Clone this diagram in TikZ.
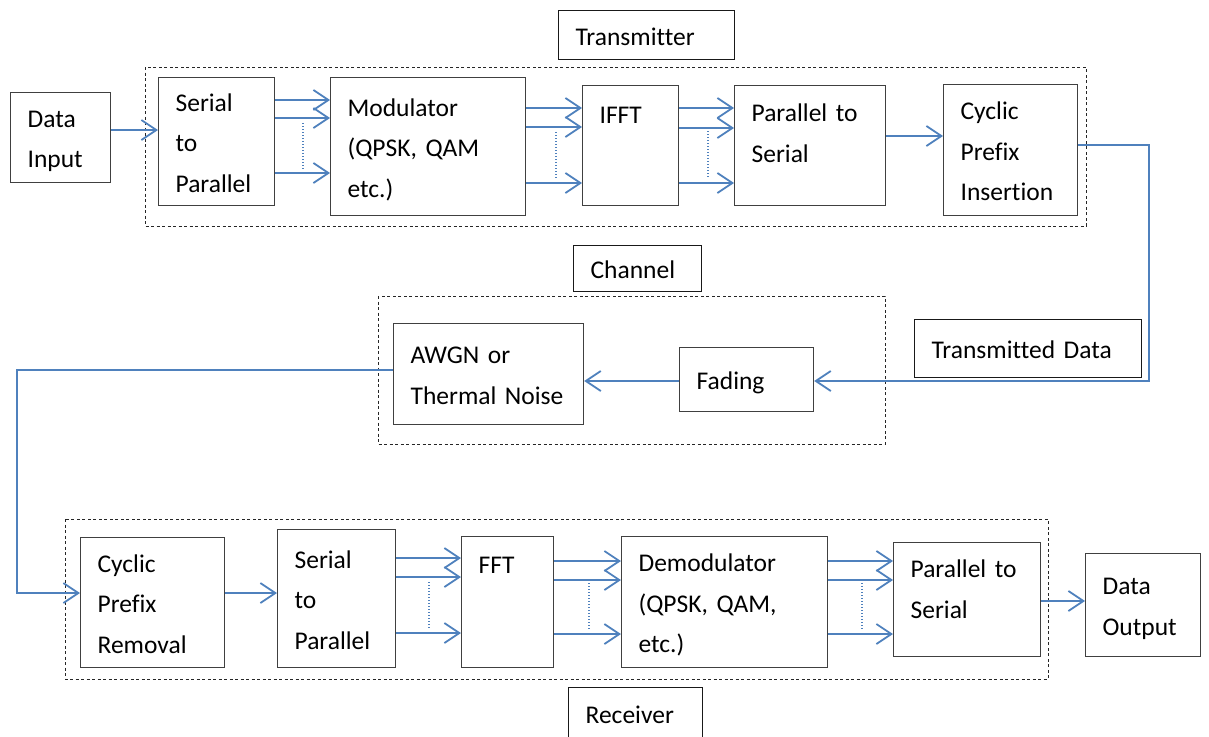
\documentclass[tikz,border=0pt]{standalone}
\usepackage{fontspec}
\setmainfont{Carlito}[Ligatures=NoCommon]
\usetikzlibrary{arrows.meta}
\definecolor{linkblue}{HTML}{4F81BD}

\begin{document}
\begin{tikzpicture}[x=1pt, y=-1pt,
    every node/.style={font=\fontsize{25.5}{40.5}\selectfont},
    blk/.style={rectangle, draw=black!75, line width=1.2pt, anchor=north west,
                align=left, inner xsep=17pt, inner ysep=4pt},
    ttl/.style={blk, draw=black!90},
    ln1/.style={text height=28pt, text depth=8pt},
    ln2/.style={text height=28pt, text depth=48.5pt},
    ln3/.style={text height=28pt, text depth=89pt},
    grp/.style={draw=black!85, line width=0.9pt, dash pattern=on 3pt off 2.5pt},
    arr/.style={-{Straight Barb[length=15pt, width=20pt]}, draw=linkblue, line width=1.8pt},
    dotln/.style={draw=linkblue, line width=1.3pt, dash pattern=on 1.4pt off 1.6pt}
]
    \useasboundingbox (0,0) rectangle (1209,736);

    \draw[grp] (145,67) rectangle (1086,226);
    \draw[grp] (378,296) rectangle (885,444);
    \draw[grp] (65,519) rectangle (1048,679);

    \node[ttl, ln1, minimum width=176, minimum height=49, text width=142] (ttx) at (558,10) {Transmitter};
    \node[ttl, ln1, minimum width=128, minimum height=46, text width=94] (tch) at (573,245) {Channel};
    \node[ttl, ln1, minimum width=134, minimum height=52, text width=100] (trx) at (568,687) {Receiver};

    \node[blk, ln2, minimum width=100, minimum height=90, text width=66] (din) at (10,92) {Data\\Input};
    \node[blk, ln3, minimum width=116, minimum height=128, text width=82] (sptx) at (158,77) {Serial\\to\\Parallel};
    \node[blk, ln3, minimum width=195, minimum height=138, text width=161] (mod) at (330,77) {Modulator\\(QPSK, QAM\\etc.)};
    \node[blk, minimum width=96, minimum height=120, text width=62, text height=34, text depth=78] (ifft) at (582,85) {IFFT};
    \node[blk, minimum width=151, minimum height=120, text width=117, text height=32, text depth=80] (pstx) at (734,85) {Parallel to\\Serial};
    \node[blk, ln3, minimum width=134, minimum height=131, text width=100] (cpi) at (943,84) {Cyclic\\Prefix\\Insertion};

    \node[ttl, ln1, minimum width=227, minimum height=58, text width=193] (txdata) at (914,319) {Transmitted Data};
    \node[blk, ln1, minimum width=134, minimum height=64, text width=100] (fad) at (679,347) {Fading};
    \node[blk, ln2, minimum width=190, minimum height=101, text width=156] (awgn) at (393,323) {AWGN or\\Thermal Noise};

    \node[blk, ln3, minimum width=144, minimum height=130, text width=110] (cpr) at (80,537) {Cyclic\\Prefix\\Removal};
    \node[blk, ln3, minimum width=118, minimum height=138, text width=84] (sprx) at (277,529) {Serial\\to\\Parallel};
    \node[blk, minimum width=92, minimum height=131, text width=58, text height=33, text depth=90] (fft) at (461,536) {FFT};
    \node[blk, ln3, minimum width=206, minimum height=131, text width=172] (demod) at (621,536) {Demodulator\\(QPSK, QAM,\\etc.)};
    \node[blk, minimum width=147, minimum height=114, text width=113, text height=31, text depth=75] (psrx) at (893,542) {Parallel to\\Serial};
    \node[blk, ln2, minimum width=115, minimum height=103, text width=81] (dout) at (1085,553) {Data\\Output};

    \draw[arr] (din.east |- 0,130) -- (sptx.west |- 0,130);
    \foreach \yy in {100,118,173}
        \draw[arr] (sptx.east |- 0,\yy) -- (mod.west |- 0,\yy);
    \foreach \yy in {108,127,183}
        \draw[arr] (mod.east |- 0,\yy) -- (ifft.west |- 0,\yy);
    \foreach \yy in {108,128,183}
        \draw[arr] (ifft.east |- 0,\yy) -- (pstx.west |- 0,\yy);
    \draw[arr] (pstx.east |- 0,136) -- (cpi.west |- 0,136);

    \coordinate (turntx) at (1149,145);
    \draw[arr] (cpi.east |- turntx) -- (turntx) |- (fad.east |- 0,381);
    \draw[arr] (fad.west |- 0,381) -- (awgn.east |- 0,381);
    \coordinate (turnch) at (17,370);
    \draw[arr] (awgn.west |- turnch) -- (turnch) |- (cpr.west |- 0,593);

    \draw[arr] (cpr.east |- 0,593) -- (sprx.west |- 0,593);
    \foreach \yy in {558,577,633}
        \draw[arr] (sprx.east |- 0,\yy) -- (fft.west |- 0,\yy);
    \foreach \yy in {561,580,634}
        \draw[arr] (fft.east |- 0,\yy) -- (demod.west |- 0,\yy);
    \foreach \yy in {561,580,634}
        \draw[arr] (demod.east |- 0,\yy) -- (psrx.west |- 0,\yy);
    \draw[arr] (psrx.east |- 0,601) -- (dout.west |- 0,601);

    \draw[dotln] (303,123) -- (303,169);
    \draw[dotln] (556,132) -- (556,178);
    \draw[dotln] (708,131) -- (708,178);
    \draw[dotln] (429,582) -- (429,628);
    \draw[dotln] (589,583) -- (589,630);
    \draw[dotln] (862,583) -- (862,630);
\end{tikzpicture}
\end{document}
